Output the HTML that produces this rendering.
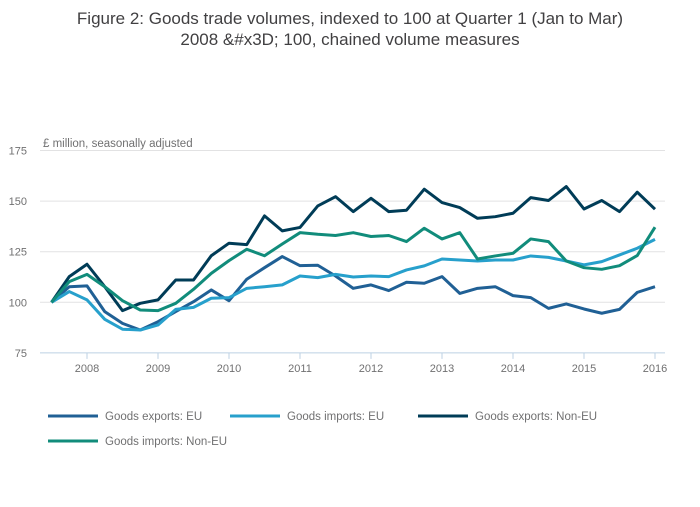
<!DOCTYPE html>
<html><head><meta charset="utf-8"><style>
body{margin:0;background:#fff;font-family:"Liberation Sans",sans-serif;}
svg text{font-family:"Liberation Sans",sans-serif;}
</style></head><body>
<svg id="chart" width="700" height="502" viewBox="0 0 700 502">
<text x="350" y="24" text-anchor="middle" font-size="17" fill="#414042">Figure 2: Goods trade volumes, indexed to 100 at Quarter 1 (Jan to Mar)</text>
<text x="350" y="45" text-anchor="middle" font-size="17" fill="#414042">2008 &amp;#x3D; 100, chained volume measures</text>
<text x="43" y="147" font-size="11.5" fill="#707071">£ million, seasonally adjusted</text>
<g id="grid"></g><g id="xaxis"></g><g id="series"></g><g id="legend"></g>
</svg>
<script>
const yTicks=[75,100,125,150,175];
const xTickLabels=["2008","2009","2010","2011","2012","2013","2014","2015","2016"];
const exportsEU=[100,107.7,108.1,95.4,89.6,86.3,90.4,95.4,100.3,106.1,100.8,111.4,117.1,122.6,118.1,118.3,113,106.9,108.6,105.8,109.9,109.4,112.7,104.4,106.9,107.7,103.3,102.3,97,99.2,96.7,94.6,96.5,104.9,107.7];
const importsEU=[100,105.3,101.2,91.6,86.7,86.3,88.8,96.5,97.5,102,102.3,106.9,107.7,108.6,113,112.2,113.8,112.5,113,112.7,116,118,121.4,120.9,120.4,120.9,120.9,122.9,122.2,120.4,118.5,120.1,123.4,126.7,131.1];
const exportsNonEU=[100,112.7,118.8,107.7,95.9,99.5,101.2,111,111,123,129.2,128.5,142.7,135.3,137,147.6,152.2,144.8,151.4,144.8,145.5,155.9,149.3,146.8,141.5,142.3,144,151.7,150.3,157.2,146.1,150.3,144.8,154.4,146];
const importsNonEU=[100,110.2,113.8,107.7,100.8,96.2,95.9,99.5,106.4,114.3,120.6,126.2,123,128.8,134.4,133.6,133,134.4,132.5,133,130,136.6,131.3,134.4,121.4,122.9,124.2,131.3,130,120.4,117.1,116.3,118.1,123.1,137.1];
const seriesNames=["Goods exports: EU","Goods imports: EU","Goods exports: Non-EU","Goods imports: Non-EU"];
const seriesColors=["#206095","#27a0cc","#003c57","#118c7b"];
const NS="http://www.w3.org/2000/svg";
const x0=51.5,dx=17.75,xL=40,xR=665;
const X=i=>x0+i*dx;
const Y=v=>302.3-(v-100)*50.6/25;
function mk(t,a,p){const e=document.createElementNS(NS,t);for(const k in a)e.setAttribute(k,a[k]);p.appendChild(e);return e;}
const grid=document.getElementById('grid');
yTicks.forEach(v=>{
 const l=mk('line',{x1:xL,x2:xR,y1:Y(v),y2:Y(v),stroke:v===75?'#bcd0e3':'#e2e2e3','stroke-width':1},grid);
 
 
 const t=mk('text',{x:27,y:Y(v)+4,'text-anchor':'end','font-size':11,fill:'#707071'},grid);
 t.textContent=v;
 
 
});
const xa=document.getElementById('xaxis');
xTickLabels.forEach((lab,k)=>{
 const x=X(2+4*k);
 const tk=mk('line',{x1:x,x2:x,y1:Y(75),y2:Y(75)+6,stroke:'#bcd0e3'},xa);
 
 
 const t=mk('text',{x:x,y:372,'text-anchor':'middle','font-size':11,fill:'#707071'},xa);
 t.textContent=lab;
 
 
});
const data=[exportsEU,importsEU,exportsNonEU,importsNonEU];
const sg=document.getElementById('series');
data.forEach((d,s)=>{
 const p=mk('polyline',{points:d.map((v,i)=>X(i)+','+Y(v)).join(' '),fill:'none',stroke:seriesColors[s],'stroke-width':3,'stroke-linejoin':'round'},sg);
 
 
});
const lg=document.getElementById('legend');
const lpos=[[48,416],[230,416],[418,416],[48,441]];
seriesNames.forEach((n,s)=>{
 const [lx,ly]=lpos[s];
 const l=mk('line',{x1:lx,x2:lx+50,y1:ly,y2:ly,stroke:seriesColors[s],'stroke-width':3},lg);
 
 
 const t=mk('text',{x:lx+57,y:ly+4,'font-size':11.5,fill:'#707071'},lg);
 t.textContent=n;
 
 
});
</script>
</body></html>
